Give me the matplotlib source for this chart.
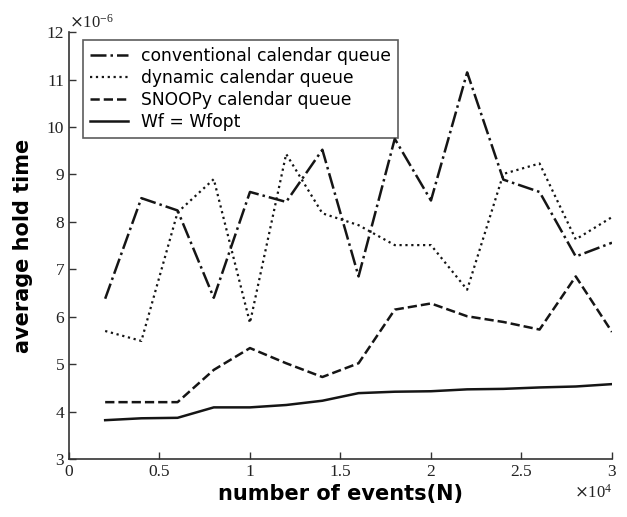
import matplotlib
matplotlib.use("Agg")
import matplotlib.pyplot as plt
from matplotlib.ticker import ScalarFormatter, MultipleLocator

n_events = [2000, 4000, 6000, 8000, 10000, 12000, 14000, 16000, 18000, 20000,
            22000, 24000, 26000, 28000, 30000]
conventional = [6.38, 8.50, 8.24, 6.40, 8.63, 8.42, 9.52, 6.85, 9.75, 8.45,
                11.15, 8.89, 8.63, 7.27, 7.56]
dynamic = [5.70, 5.49, 8.20, 8.90, 5.87, 9.43, 8.18, 7.93, 7.51, 7.51,
           6.57, 9.01, 9.23, 7.63, 8.10]
snoopy = [4.20, 4.20, 4.20, 4.88, 5.34, 5.02, 4.73, 5.02, 6.15, 6.28,
          6.01, 5.89, 5.73, 6.85, 5.68]
wfopt = [3.82, 3.86, 3.87, 4.09, 4.09, 4.14, 4.23, 4.39, 4.42, 4.43,
         4.47, 4.48, 4.51, 4.53, 4.58]
labels = ["conventional calendar queue", "dynamic calendar queue",
          "SNOOPy calendar queue", "Wf = Wfopt"]
scale = 1e-6


class PlainSci(ScalarFormatter):
    def _set_format(self):
        self.format = '%g'


plt.rcParams['mathtext.fontset'] = 'dejavuserif'
fig = plt.figure(figsize=(6.27, 5.17), dpi=100)
ax = fig.add_axes([0.110, 0.112, 0.866, 0.826])

col = '#151515'
ax.plot(n_events, [v * scale for v in conventional], linestyle='-.', color=col, lw=1.8, label=labels[0])
ax.plot(n_events, [v * scale for v in dynamic], linestyle=':', color=col, lw=1.6, label=labels[1])
ax.plot(n_events, [v * scale for v in snoopy], linestyle='--', color=col, lw=1.8, label=labels[2])
ax.plot(n_events, [v * scale for v in wfopt], linestyle='-', color=col, lw=1.8, label=labels[3])

ax.set_xlim(0, 30000)
ax.set_ylim(3e-6, 12e-6)
ax.xaxis.set_major_locator(MultipleLocator(5000))
ax.yaxis.set_major_locator(MultipleLocator(1e-6))
fx = PlainSci(useMathText=True)
fx.set_powerlimits((4, 4))
ax.xaxis.set_major_formatter(fx)
fy = PlainSci(useMathText=True)
fy.set_powerlimits((-6, -6))
ax.yaxis.set_major_formatter(fy)

ax.spines['top'].set_visible(False)
ax.spines['right'].set_visible(False)
for s in ('left', 'bottom'):
    ax.spines[s].set_color('#333333')
    ax.spines[s].set_linewidth(1.2)
ax.tick_params(direction='in', length=5, width=1, colors='#333333', labelsize=12.5,
               labelcolor='#222222')
for lab in ax.get_xticklabels() + ax.get_yticklabels():
    lab.set_family('Liberation Serif')
for ot in (ax.xaxis.get_offset_text(), ax.yaxis.get_offset_text()):
    ot.set_family('Liberation Serif')
    ot.set_fontsize(12)

ax.set_xlabel("number of events(N)", fontsize=15, fontweight='bold', family='DejaVu Sans', labelpad=3)
ax.set_ylabel("average hold time", fontsize=15, fontweight='bold', family='DejaVu Sans', labelpad=10)

leg = ax.legend(loc='upper left', bbox_to_anchor=(0.026, 0.981), borderaxespad=0,
                fontsize=12.3, frameon=True, fancybox=False, edgecolor='#333333',
                handlelength=2.2, borderpad=0.4, labelspacing=0.24, handletextpad=0.8)
leg.get_frame().set_linewidth(1.2)

fig.savefig("out.png", dpi=100)
